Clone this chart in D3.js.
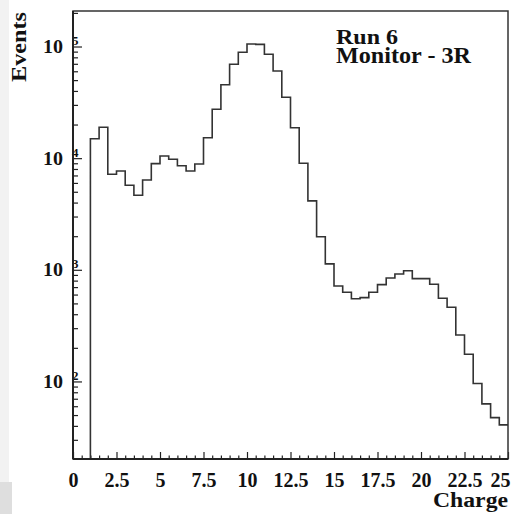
<!DOCTYPE html>
<html><head><meta charset="utf-8">
<script src="https://cdn.jsdelivr.net/npm/d3@7/dist/d3.min.js"></script>
<style>html,body{margin:0;padding:0;background:#fff;}svg{display:block;}</style>
</head><body>
<svg id="chart" width="524" height="514"></svg>
<script>
// ---- data ----
const binLow = [1.0,1.5,2.0,2.5,3.0,3.5,4.0,4.5,5.0,5.5,6.0,6.5,7.0,7.5,8.0,8.5,9.0,9.5,10.0,10.5,
  11.0,11.5,12.0,12.5,13.0,13.5,14.0,14.5,15.0,15.5,16.0,16.5,17.0,17.5,18.0,18.5,19.0,19.5,20.0,20.5,
  21.0,21.5,22.0,22.5,23.0,23.5,24.0,24.5];
const events = [14900,18900,7170,7680,5720,4650,6380,8930,10450,9770,8560,7680,8870,15250,27400,45500,69300,88700,105300,104600,
  85200,60300,35100,18750,9000,4140,1980,1130,717,629,551,563,629,736,845,918,982,833,833,742,
  556,462,261,175,96,63,47.4,40.8];
const xMajorTicks = [0,2.5,5,7.5,10,12.5,15,17.5,20,22.5,25];
const xTickLabels = ["0","2.5","5","7.5","10","12.5","15","17.5","20","22.5","25"];
const yDecades = [100,1000,10000,100000];
const yExponents = ["2","3","4","5"];
const xRange = [0,25];
const yRange = [20.2,208000];
const title1 = "Run 6", title2 = "Monitor - 3R";
const xTitle = "Charge", yTitle = "Events";

// ---- layout ----
const L = 73, R = 508, T = 11, B = 459;
const svg = d3.select("#chart");
const font = "'Liberation Serif','Times New Roman',serif";

// side strip (scan artifact)
svg.append("rect").attr("x",0).attr("y",0).attr("width",9).attr("height",482).attr("fill","#f2f2f2");
svg.append("rect").attr("x",0).attr("y",482).attr("width",12).attr("height",32).attr("fill","#dedede");

const x = d3.scaleLinear().domain(xRange).range([L,R]);
const y = d3.scaleLog().domain(yRange).range([B,T]);

// minor ticks
const xMinor = d3.range(0, 25.01, 0.5).filter(v => Math.abs(v/2.5 - Math.round(v/2.5)) > 1e-6);
svg.append("g").attr("transform",`translate(0,${B})`)
  .call(d3.axisBottom(x).tickValues(xMinor).tickSizeInner(-3.5).tickSizeOuter(0).tickFormat(""))
  .call(g=>g.select(".domain").remove())
  .selectAll("line").attr("stroke","#222").attr("stroke-width",1.2);

const xAxis = svg.append("g").attr("transform",`translate(0,${B})`)
  .call(d3.axisBottom(x).tickValues(xMajorTicks).tickSizeInner(-7).tickSizeOuter(0).tickPadding(14)
    .tickFormat((d,i)=>xTickLabels[i]));
xAxis.select(".domain").remove();
xAxis.selectAll("line").attr("stroke","#222").attr("stroke-width",1.2);
xAxis.selectAll("text").attr("font-family",font).attr("font-weight","bold").attr("font-size",20)
  .attr("fill","#111").attr("dy","0.71em");
xAxis.selectAll(".tick").filter(d=>d===25).select("text").attr("dx",-8);

const yMinor = [];
[10,100,1000,10000,100000].forEach(dec=>{for(let k=2;k<=9;k++){const v=dec*k; if(v>=yRange[0]&&v<=yRange[1]) yMinor.push(v);}});
svg.append("g").attr("transform",`translate(${L},0)`)
  .call(d3.axisLeft(y).tickValues(yMinor).tickSizeInner(-5).tickSizeOuter(0).tickFormat(""))
  .call(g=>g.select(".domain").remove())
  .selectAll("line").attr("stroke","#222").attr("stroke-width",1.2);

const yAxis = svg.append("g").attr("transform",`translate(${L},0)`)
  .call(d3.axisLeft(y).tickValues(yDecades).tickSizeInner(-9).tickSizeOuter(0).tickFormat(""));
yAxis.select(".domain").remove();
yAxis.selectAll("line").attr("stroke","#222").attr("stroke-width",1.2);
yAxis.selectAll(".tick").each(function(d,i){
  const g = d3.select(this);
  g.append("text").attr("x",-10).attr("y",6).attr("text-anchor","end")
    .attr("font-family",font).attr("font-weight","bold").attr("font-size",18).attr("fill","#111")
    .attr("textLength",20).attr("lengthAdjust","spacingAndGlyphs").text("10");
  g.append("text").attr("x",-1).attr("y",-2).attr("text-anchor","start")
    .attr("font-family",font).attr("font-weight","bold").attr("font-size",13).attr("fill","#111")
    .text(yExponents[i]);
});

// histogram
const pts = [[binLow[0], yRange[0]]];
binLow.forEach((b,i)=>pts.push([b, events[i]]));
pts.push([xRange[1], events[events.length-1]]);
const line = d3.line().x(d=>x(d[0])).y(d=>y(d[1])).curve(d3.curveStepAfter);
svg.append("path").attr("d",line(pts)).attr("fill","none").attr("stroke","#333").attr("stroke-width",1.6);

// frame
svg.append("rect").attr("x",L).attr("y",T).attr("width",R-L).attr("height",B-T)
  .attr("fill","none").attr("stroke","#333").attr("stroke-width",1.5);
svg.append("line").attr("x1",L).attr("x2",L).attr("y1",T).attr("y2",B).attr("stroke","#222").attr("stroke-width",2);
svg.append("line").attr("x1",L).attr("x2",R).attr("y1",B).attr("y2",B).attr("stroke","#222").attr("stroke-width",2);

// titles
svg.append("text").attr("x",336).attr("y",44).attr("font-family",font).attr("font-weight","bold")
  .attr("font-size",22).attr("fill","#111").attr("textLength",62).attr("lengthAdjust","spacingAndGlyphs").text(title1);
svg.append("text").attr("x",336).attr("y",63).attr("font-family",font).attr("font-weight","bold")
  .attr("font-size",23).attr("fill","#111").attr("textLength",135).attr("lengthAdjust","spacingAndGlyphs").text(title2);
svg.append("text").attr("x",508).attr("y",507).attr("text-anchor","end").attr("font-family",font)
  .attr("font-weight","bold").attr("font-size",20).attr("fill","#111")
  .attr("textLength",75).attr("lengthAdjust","spacingAndGlyphs").text(xTitle);
svg.append("text").attr("transform","translate(26,12) rotate(-90)").attr("text-anchor","end")
  .attr("font-family",font).attr("font-weight","bold").attr("font-size",20).attr("fill","#111")
  .attr("textLength",70).attr("lengthAdjust","spacingAndGlyphs").text(yTitle);
</script>
</body></html>
